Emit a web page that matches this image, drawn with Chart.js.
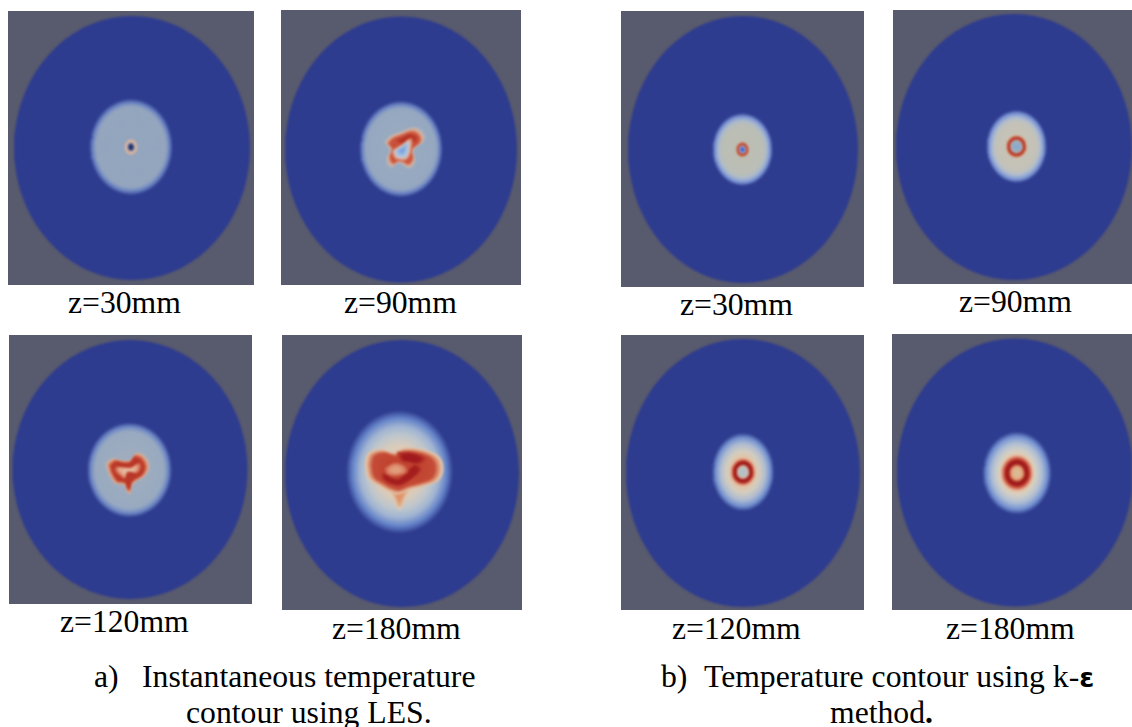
<!DOCTYPE html>
<html><head><meta charset="utf-8">
<script src="https://cdn.jsdelivr.net/npm/chart.js@4"></script>
<style>
html,body{margin:0;padding:0;background:#fff;width:1132px;height:727px;overflow:hidden}
.panel{position:absolute;overflow:hidden;background:#585a6e}
.panel canvas{display:block;filter:blur(0.9px)}
.cap{position:absolute;font-family:"Liberation Serif",serif;color:#000;white-space:pre;line-height:1;font-size:31.7px}
</style></head><body>
<script>
// ---------- values (1 unit = one reference pixel) ----------
const panelTitles = ["z=30mm","z=90mm","z=120mm","z=180mm","z=30mm","z=90mm","z=120mm","z=180mm"];
const domainRx = [118,116,117.5,117,115,118,117,118];
const domainRy = [132,133,129.5,133.5,133.5,133,134,134];
const haloRx   = [39,39,39.5,47,28,28,28,31];
const haloRy   = [45,45,44,54,33.5,33.5,35,37];
const haloDx   = [-1,0,-0.5,-2.5,-0.5,2.5,0,2];
const haloDy   = [-1,-0.5,0.5,-1.5,0,-0.5,-1,0.5];
const coreRx   = [6.5,null,null,null,5.8,9.3,10.3,12.8];
const coreRy   = [8,null,null,null,6.7,10,11.5,14.2];

// traced contours of the flame fronts, x then y
const a2OuterX = [-12.7,-7.7,0.7,10.7,17.3,19,10.7,11.7,7.3,-1,-7.7,-11,-8.3];
const a2OuterY = [-6.2,-11.2,-14.5,-17.8,-14.5,-7.8,0.5,8.8,14.5,10.5,13.8,7.2,0.5];
const a2HoleX  = [-6,0.7,7.3,8.3,5,-2.7,-6];
const a2HoleY  = [0.5,-3.5,-7.8,-2.8,7.2,7.8,3.8];
const a2DarkX  = [-6,1,9,16,15,7,0];
const a2DarkY  = [-9,-12,-15.5,-13,-8,-7.5,-6];
const a3OuterX = [-20.7,-15,-6.7,0,5,11.7,16,12.7,5,1.7,0,-2.7,-5,-12.7,-18.3];
const a3OuterY = [-4.5,-8.8,-7.2,-7.8,-13.5,-11.2,-2.8,5.5,10.5,13.8,20.5,19.8,13.8,12.2,3.8];
const a3InnerX = [-13.3,-6.7,3.3,8.3,10,6.7,0,-5,-5,-10,-14];
const a3InnerY = [-2.8,-2.2,-2.2,-6.2,-2.2,3.2,2.2,3.8,8.8,5.5,1.2];
const a4BodyX  = [-33,-30,-19,-7,1.3,18,33,36.5,32,19,7,-3,-11,-20,-30];
const a4BodyY  = [-9,-18.5,-22,-19,-23,-22,-15.2,-4,6,11,14,18,16,11,4];
const a4TailX  = [11,3,-2.5,-8,-17];
const a4TailY  = [9,23,34,23,9];
const a4Dark1X = [-2,9.7,21.3,16.3,6.3,-0.3];
const a4Dark1Y = [-20.2,-20.2,-15.2,-10.2,-11.8,-13.5];
const a4Dark2X = [-18.7,-12,-3.7,4.7,13,18,9.7,-2,-12,-18.7];
const a4Dark2Y = [-0.2,4.8,6.5,-0.2,-8.5,-3.5,4.8,11.5,9.8,4.8];
const a4PaleX  = [-15.3,-7,1.3,3,-5.3,-13.7];
const a4PaleY  = [-5.2,-9.5,-6.8,-1.8,1.5,-0.2];

// colour profiles: [contour scale, rgb], outermost first
const BLUE=[46,60,143];
const haloProfiles = [
 [[1.09,BLUE],[1.0,[105,130,195]],[0.91,[148,165,190]],[0.5,[148,165,190]]],
 [[1.09,BLUE],[1.0,[110,135,198]],[0.91,[150,168,192]],[0.5,[152,170,192]]],
 [[1.1,BLUE],[1.0,[110,135,198]],[0.89,[152,170,192]],[0.4,[158,172,190]]],
 [[1.16,BLUE],[1.02,[100,130,200]],[0.86,[160,180,210]],[0.7,[190,198,205]],[0.5,[218,203,186]]],
 [[1.11,BLUE],[1.0,[125,150,215]],[0.88,[172,186,204]],[0.76,[186,190,182]],[0.4,[188,190,180]]],
 [[1.11,BLUE],[1.0,[125,150,215]],[0.86,[178,190,205]],[0.74,[196,194,184]],[0.4,[198,195,182]]],
 [[1.14,BLUE],[1.0,[115,145,208]],[0.82,[175,188,208]],[0.6,[212,205,190]],[0.4,[228,192,162]]],
 [[1.14,BLUE],[1.0,[115,145,210]],[0.82,[175,190,212]],[0.62,[212,208,196]],[0.45,[232,195,165]]]
];
const coreProfiles = [
 [[1.05,[158,170,188]],[0.85,[222,178,150]],[0.6,[205,185,180]],[0.42,[70,85,130]],[0.25,[28,48,110]],[0.02,[28,48,110]]],
 null,null,null,
 [[1.15,[200,185,170]],[1.0,[205,100,70]],[0.86,[190,65,42]],[0.68,[190,70,50]],[0.58,[185,185,200]],[0.42,[120,150,220]],[0.3,[60,100,210]],[0.02,[60,100,210]]],
 [[1.15,[215,190,170]],[1.0,[200,90,60]],[0.9,[180,50,35]],[0.76,[190,60,40]],[0.64,[180,178,178]],[0.5,[150,172,195]],[0.02,[130,172,210]]],
 [[1.22,[228,185,155]],[1.0,[200,70,50]],[0.88,[150,20,25]],[0.7,[165,30,28]],[0.58,[215,170,150]],[0.45,[190,195,192]],[0.02,[170,195,205]]],
 [[1.28,[232,190,158]],[1.0,[195,60,45]],[0.85,[150,20,25]],[0.66,[168,38,30]],[0.52,[225,150,110]],[0.36,[225,180,140]],[0.02,[215,190,160]]]
];

// page layout: panel box and domain centre
const boxes = [[8,11,246,274],[281,10,240,275],[9,335,243,269],[282,335,240,275],
               [621,11,243,276],[893,10,239,274],[621,335,243,275],[892,334,240,276]];
const centres = [[132,148],[401,149.5],[130,469.5],[402,473.5],[743,149.5],[1014,147],[743,473],[1015,472.5]];
const titlePos = [[68,313],[344,313],[60,632],[332,639],[680,315],[959,312],[672,639],[946,639]];

// ---------- contour construction ----------
const circleSteps = Array.from({length:73},(_,i)=>i*5*Math.PI/180);
function ellipse(rx,ry,dx,dy){return circleSteps.map(a=>[dx+rx*Math.cos(a),dy+ry*Math.sin(a)]);}
function traced(xs,ys){const p=xs.map((x,i)=>[x,ys[i]]);p.push(p[0]);return p;}
function lerp(a,b,t){return a+(b-a)*t;}
function colorAt(stops,s){
  for(let i=0;i<stops.length-1;i++){
    const [s0,c0]=stops[i],[s1,c1]=stops[i+1];
    if(s<=s0&&s>=s1){const t=(s0-s)/(s0-s1);
      return `rgb(${c0.map((v,j)=>Math.round(lerp(v,c1[j],t))).join(',')})`;}
  }
  const c=stops[stops.length-1][1];return `rgb(${c.join(',')})`;
}
function nested(pts,stops,n,tension,cx,cy){
  const m=pts.slice(0,-1);
  const ox=cx!==undefined?cx:m.reduce((t,p)=>t+p[0],0)/m.length;
  const oy=cy!==undefined?cy:m.reduce((t,p)=>t+p[1],0)/m.length;
  const out=[],s0=stops[0][0],s1=stops[stops.length-1][0];
  for(let k=0;k<=n;k++){
    const s=lerp(s0,s1,k/n);
    out.push({data:pts.map(p=>({x:ox+(p[0]-ox)*s,y:oy+(p[1]-oy)*s})),backgroundColor:colorAt(stops,s),tension});
  }
  return out;
}
function flameLayers(i){
  if(i===1) return [
    ...nested(traced(a2OuterX,a2OuterY),[[1.3,[165,178,195]],[1.14,[222,175,150]],[1.0,[208,100,75]],[0.9,[200,80,58]]],10,0.4),
    ...nested(traced(a2DarkX,a2DarkY),[[1.15,[200,80,58]],[0.8,[182,52,36]],[0.3,[178,48,32]]],5,0.4),
    ...nested(traced(a2HoleX,a2HoleY),[[1.5,[205,95,70]],[1.22,[225,170,150]],[1.0,[192,200,215]],[0.6,[150,185,225]],[0.25,[120,160,225]]],9,0.4)
  ];
  if(i===2) return [
    ...nested(traced(a3OuterX,a3OuterY),[[1.25,[165,176,190]],[1.12,[225,170,138]],[1.0,[208,92,66]],[0.88,[185,55,40]]],9,0.35),
    ...nested(traced(a3InnerX,a3InnerY),[[1.25,[185,55,40]],[1.05,[212,105,80]],[0.8,[228,165,135]],[0.4,[228,185,160]]],7,0.35)
  ];
  if(i===3) return [
    ...nested(traced(a4TailX,a4TailY),[[1.2,[222,203,186]],[1.0,[228,178,140]],[0.55,[224,145,105]]],6,0.3),
    ...nested(traced(a4BodyX,a4BodyY),[[1.14,[226,196,170]],[1.04,[222,150,115]],[0.94,[197,76,55]],[0.5,[192,66,48]]],9,0.35),
    ...nested(traced(a4Dark1X,a4Dark1Y),[[1.3,[192,66,48]],[0.9,[165,30,30]],[0.5,[160,25,28]]],5,0.35),
    ...nested(traced(a4Dark2X,a4Dark2Y),[[1.14,[192,66,48]],[0.95,[165,32,30]],[0.85,[165,30,30]]],4,0.3),
    ...nested(traced(a4PaleX,a4PaleY),[[1.35,[195,75,55]],[1.0,[220,130,100]],[0.5,[224,158,125]]],6,0.35)
  ];
  return [];
}
function datasetsFor(i){
  const layers=[
    {data:ellipse(domainRx[i],domainRy[i],0,0).map(p=>({x:p[0],y:p[1]})),backgroundColor:`rgb(${BLUE.join(',')})`,tension:0},
    ...nested(ellipse(haloRx[i],haloRy[i],haloDx[i],haloDy[i]),haloProfiles[i],22,0,haloDx[i],haloDy[i]),
    ...(coreRx[i]?nested(ellipse(coreRx[i],coreRy[i],haloDx[i],haloDy[i]),coreProfiles[i],20,0,haloDx[i],haloDy[i]):[]),
    ...flameLayers(i)
  ];
  return layers.map((l,k)=>({...l,showLine:true,fill:'shape',borderColor:'transparent',borderWidth:0,
    pointRadius:0,order:layers.length-k}));
}

// ---------- build page ----------
panelTitles.forEach((title,i)=>{
  const [l,t,w,h]=boxes[i],[cx,cy]=centres[i];
  const div=document.createElement('div');div.className='panel';
  div.style.cssText=`left:${l}px;top:${t}px;width:${w}px;height:${h}px`;
  const cv=document.createElement('canvas');cv.width=w;cv.height=h;cv.style.width=w+'px';cv.style.height=h+'px';
  div.appendChild(cv);document.body.appendChild(div);
  new Chart(cv,{type:'scatter',data:{datasets:datasetsFor(i)},options:{
    responsive:false,animation:false,devicePixelRatio:1,
    layout:{padding:0},
    plugins:{legend:{display:false},title:{display:false},tooltip:{enabled:false}},
    events:[],
    scales:{
      x:{type:'linear',display:false,min:l-cx,max:l+w-cx},
      y:{type:'linear',display:false,reverse:true,min:t-cy,max:t+h-cy}
    }
  }});
  const c=document.createElement('div');c.className='cap';c.textContent=title;
  c.style.left=titlePos[i][0]+'px';c.style.top=(titlePos[i][1]-26.5)+'px';
  document.body.appendChild(c);
});
const captionLines=[
 {x:94,y:687,html:'a)'},{x:142,y:687,html:'Instantaneous temperature'},{x:186,y:723,html:'contour using LES.'},
 {x:661,y:687,html:'b)'},{x:704,y:687,html:'Temperature contour using k-<span style="font-family:\'DejaVu Sans\';font-weight:bold;font-size:27px">ε</span>'},
 {x:830,y:723,html:'method<b>.</b>'}
];
captionLines.forEach(o=>{
  const c=document.createElement('div');c.className='cap';c.innerHTML=o.html;
  c.style.left=o.x+'px';c.style.top=(o.y-26.5)+'px';document.body.appendChild(c);
});
</script>
</body></html>
